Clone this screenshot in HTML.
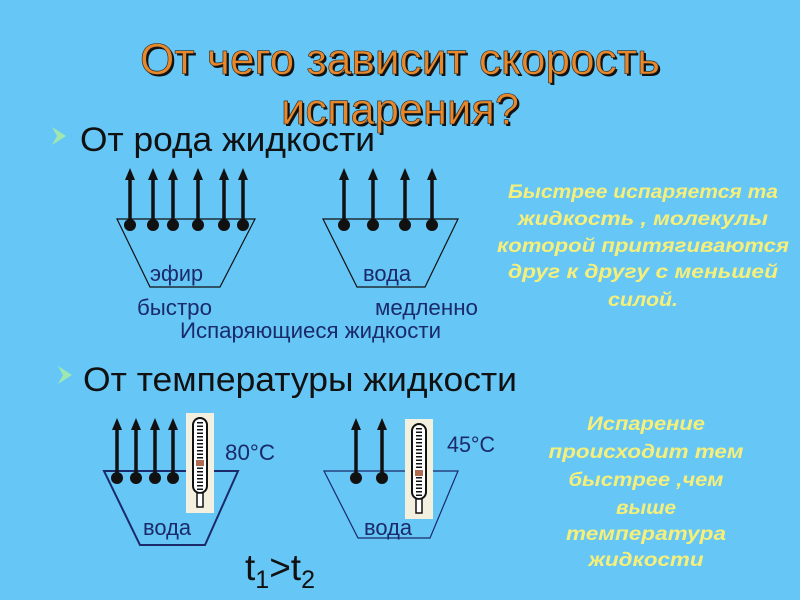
<!DOCTYPE html>
<html><head><meta charset="utf-8"><style>
html,body{margin:0;padding:0}
body{width:800px;height:600px;background:#66c6f6;overflow:hidden}
svg{display:block}
text{font-family:"Liberation Sans","DejaVu Sans",sans-serif}
</style></head><body>
<svg width="800" height="600" viewBox="0 0 800 600">
<rect width="800" height="600" fill="#66c6f6"/>
<g font-size="44" text-anchor="middle">
<text x="402" y="76" fill="#111" textLength="520" lengthAdjust="spacingAndGlyphs">От чего зависит скорость</text>
<text x="400" y="74" fill="#e8882a" stroke="#222" stroke-width="0.6" textLength="520" lengthAdjust="spacingAndGlyphs">От чего зависит скорость</text>
<text x="402" y="126" fill="#111" textLength="238" lengthAdjust="spacingAndGlyphs">испарения?</text>
<text x="400" y="124" fill="#e8882a" stroke="#222" stroke-width="0.6" textLength="238" lengthAdjust="spacingAndGlyphs">испарения?</text>
</g>
<path d="M52,127 L66,136 L52,145 L57,136 Z" fill="#9ee8b0"/>
<text x="80" y="151" font-size="34" fill="#111" textLength="295" lengthAdjust="spacingAndGlyphs">От рода жидкости</text>
<path d="M58,366 L72,375 L58,384 L63,375 Z" fill="#9ee8b0"/>
<text x="83" y="391" font-size="34" fill="#111" textLength="434" lengthAdjust="spacingAndGlyphs">От температуры жидкости</text>

<g stroke="#111" stroke-width="1.2" fill="none">
<path d="M117,219 L255,219 L220,287 L150,287 Z"/>
<path d="M323,219 L458,219 L425,287 L357,287 Z"/>
<path d="M104,471 L238,471 L205,545 L140,545 Z" stroke="#1a2a6a" stroke-width="2"/>
<path d="M324,471 L458,471 L430,538 L358,538 Z" stroke="#1a2a6a" stroke-width="1.2"/>
</g>
<g stroke="#111" stroke-width="3.5">
<line x1="130" y1="224" x2="130" y2="178"/>
<line x1="153" y1="224" x2="153" y2="178"/>
<line x1="173" y1="224" x2="173" y2="178"/>
<line x1="198" y1="224" x2="198" y2="178"/>
<line x1="224" y1="224" x2="224" y2="178"/>
<line x1="243" y1="224" x2="243" y2="178"/>
<line x1="344" y1="224" x2="344" y2="178"/>
<line x1="373" y1="224" x2="373" y2="178"/>
<line x1="405" y1="224" x2="405" y2="178"/>
<line x1="432" y1="224" x2="432" y2="178"/>
<line x1="117" y1="478" x2="117" y2="428"/>
<line x1="136" y1="478" x2="136" y2="428"/>
<line x1="155" y1="478" x2="155" y2="428"/>
<line x1="173" y1="478" x2="173" y2="428"/>
<line x1="356" y1="478" x2="356" y2="428"/>
<line x1="382" y1="478" x2="382" y2="428"/>
</g>
<g fill="#111">
<path d="M125,180 L130,168 L135,180 Z"/><path d="M148,180 L153,168 L158,180 Z"/><path d="M168,180 L173,168 L178,180 Z"/>
<path d="M193,180 L198,168 L203,180 Z"/><path d="M219,180 L224,168 L229,180 Z"/><path d="M238,180 L243,168 L248,180 Z"/>
<path d="M339,180 L344,168 L349,180 Z"/><path d="M368,180 L373,168 L378,180 Z"/><path d="M400,180 L405,168 L410,180 Z"/><path d="M427,180 L432,168 L437,180 Z"/>
<path d="M112,430 L117,418 L122,430 Z"/><path d="M131,430 L136,418 L141,430 Z"/><path d="M150,430 L155,418 L160,430 Z"/><path d="M168,430 L173,418 L178,430 Z"/>
<path d="M351,430 L356,418 L361,430 Z"/><path d="M377,430 L382,418 L387,430 Z"/>
<circle cx="130" cy="225" r="6"/><circle cx="153" cy="225" r="6"/><circle cx="173" cy="225" r="6"/>
<circle cx="198" cy="225" r="6"/><circle cx="224" cy="225" r="6"/><circle cx="243" cy="225" r="6"/>
<circle cx="344" cy="225" r="6"/><circle cx="373" cy="225" r="6"/><circle cx="405" cy="225" r="6"/><circle cx="432" cy="225" r="6"/>
<circle cx="117" cy="478" r="6"/><circle cx="136" cy="478" r="6"/><circle cx="155" cy="478" r="6"/><circle cx="173" cy="478" r="6"/>
<circle cx="356" cy="478" r="6"/><circle cx="382" cy="478" r="6"/>
</g>
<g>
<rect x="186" y="413" width="28" height="100" fill="#f4f0e0"/>
<rect x="193" y="418" width="14" height="75" rx="7" fill="#fff" stroke="#111" stroke-width="2"/>
<rect x="197" y="493" width="6" height="14" fill="#fff" stroke="#111" stroke-width="1.5"/>
<line x1="200" y1="422" x2="200" y2="490" stroke="#111" stroke-width="6" stroke-dasharray="1.5,2"/>
<rect x="196" y="460" width="8" height="6" fill="#b06a50"/>
<rect x="405" y="419" width="28" height="100" fill="#f4f0e0"/>
<rect x="412" y="424" width="14" height="75" rx="7" fill="#fff" stroke="#111" stroke-width="2"/>
<rect x="416" y="499" width="6" height="14" fill="#fff" stroke="#111" stroke-width="1.5"/>
<line x1="419" y1="428" x2="419" y2="496" stroke="#111" stroke-width="6" stroke-dasharray="1.5,2"/>
<rect x="415" y="470" width="8" height="6" fill="#b06a50"/>
</g>
<g font-size="22" fill="#1a2a6a">
<text x="150" y="281" textLength="53" lengthAdjust="spacingAndGlyphs">эфир</text>
<text x="363" y="281" textLength="48" lengthAdjust="spacingAndGlyphs">вода</text>
<text x="137" y="315" textLength="75" lengthAdjust="spacingAndGlyphs">быстро</text>
<text x="375" y="315" textLength="103" lengthAdjust="spacingAndGlyphs">медленно</text>
<text x="180" y="338" textLength="261" lengthAdjust="spacingAndGlyphs">Испаряющиеся жидкости</text>
<text x="225" y="460" textLength="50" lengthAdjust="spacingAndGlyphs">80°C</text>
<text x="447" y="452" textLength="48" lengthAdjust="spacingAndGlyphs">45°C</text>
<text x="143" y="535" textLength="48" lengthAdjust="spacingAndGlyphs">вода</text>
<text x="364" y="535" textLength="48" lengthAdjust="spacingAndGlyphs">вода</text>
</g>
<text x="245" y="580" font-size="37" fill="#111">t<tspan font-size="25" dy="8">1</tspan><tspan dy="-8">&gt;t</tspan><tspan font-size="25" dy="8">2</tspan></text>
<g font-size="19" font-weight="bold" font-style="italic" fill="#f6f07a" text-anchor="middle">
<text x="643" y="198" textLength="270" lengthAdjust="spacingAndGlyphs">Быстрее испаряется та</text>
<text x="643" y="225" textLength="250" lengthAdjust="spacingAndGlyphs">жидкость , молекулы</text>
<text x="643" y="252" textLength="292" lengthAdjust="spacingAndGlyphs">которой притягиваются</text>
<text x="643" y="278" textLength="270" lengthAdjust="spacingAndGlyphs">друг к другу с меньшей</text>
<text x="643" y="306" textLength="70" lengthAdjust="spacingAndGlyphs">силой.</text>
<text x="646" y="430" textLength="118" lengthAdjust="spacingAndGlyphs">Испарение</text>
<text x="646" y="458" textLength="195" lengthAdjust="spacingAndGlyphs">происходит тем</text>
<text x="646" y="486" textLength="155" lengthAdjust="spacingAndGlyphs">быстрее ,чем</text>
<text x="646" y="514" textLength="60" lengthAdjust="spacingAndGlyphs">выше</text>
<text x="646" y="540" textLength="160" lengthAdjust="spacingAndGlyphs">температура</text>
<text x="646" y="566" textLength="115" lengthAdjust="spacingAndGlyphs">жидкости</text>
</g>
</svg>
</body></html>
